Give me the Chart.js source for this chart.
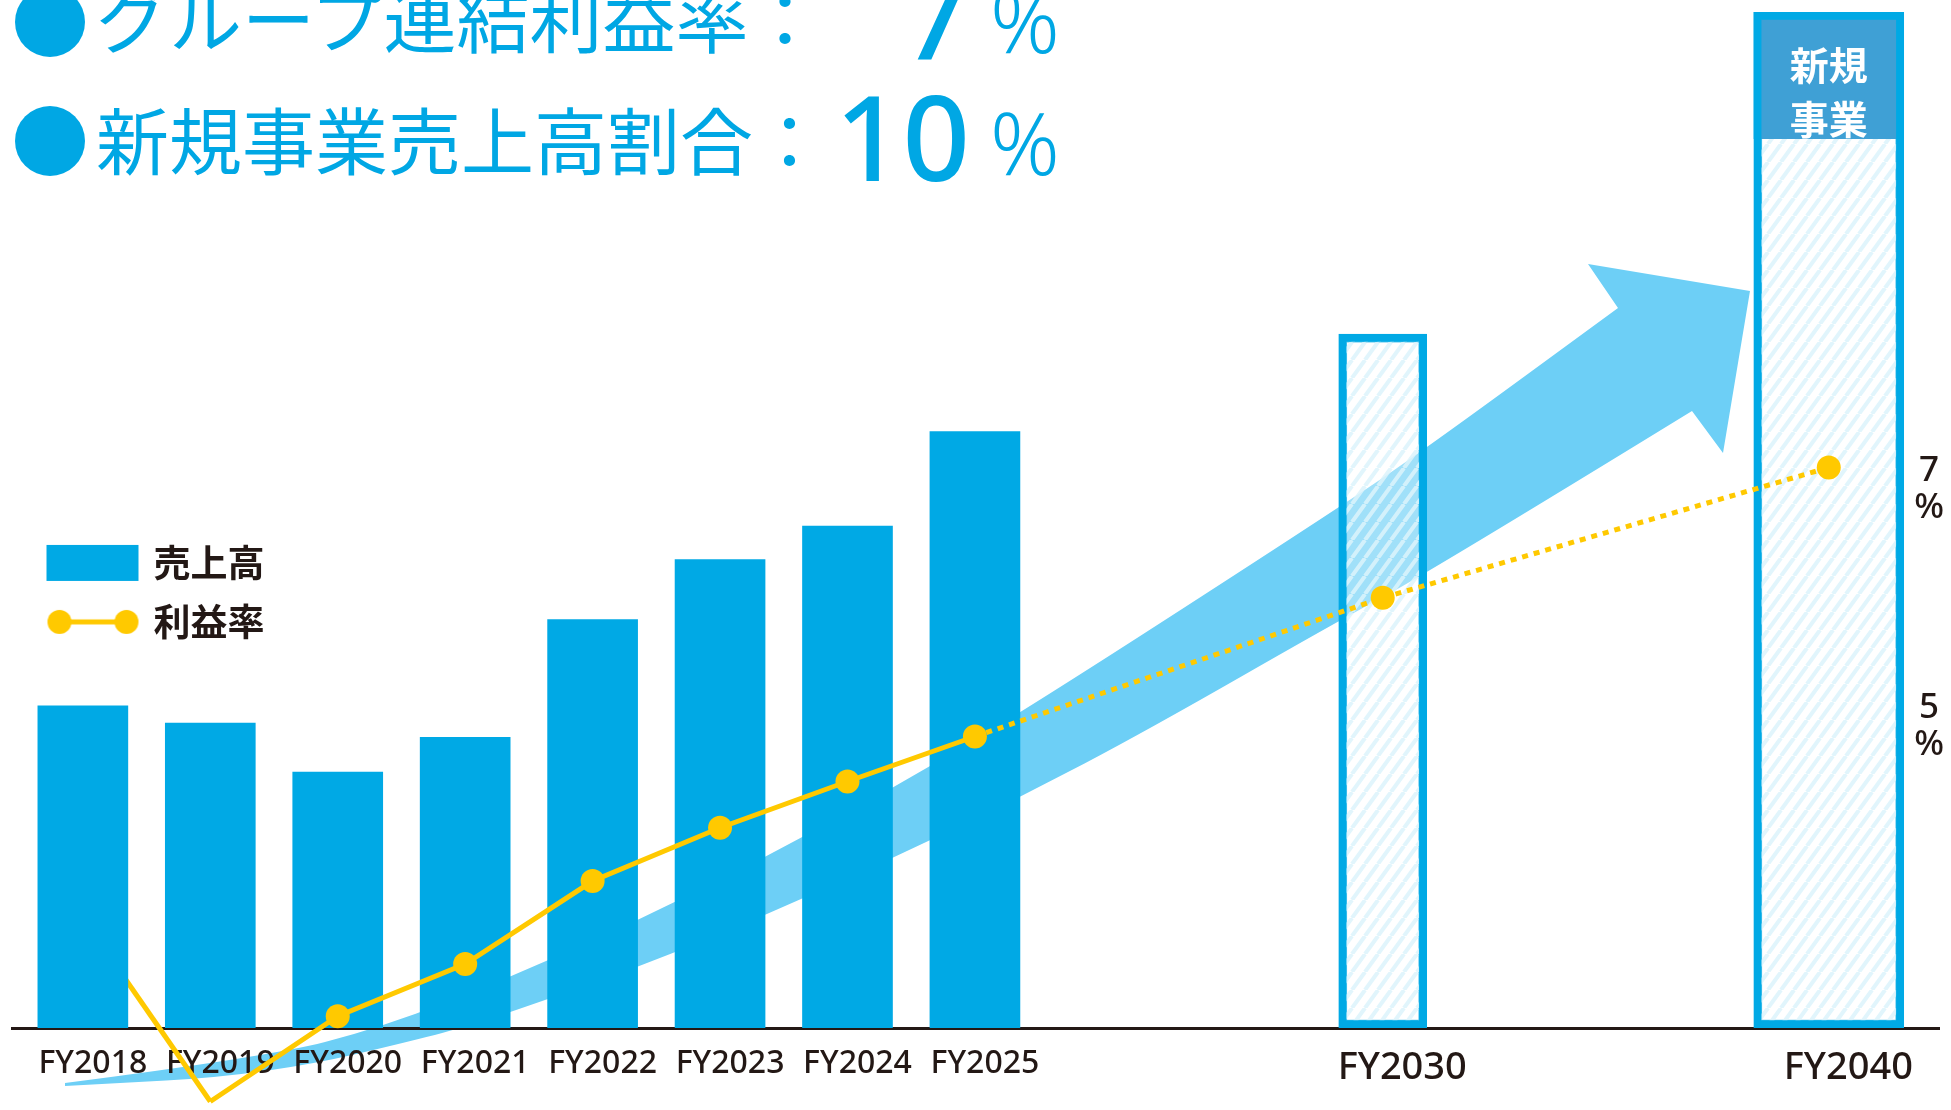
<!DOCTYPE html>
<html lang="ja">
<head>
<meta charset="utf-8">
<title>売上高・利益率</title>
<script src="https://cdn.jsdelivr.net/npm/chart.js@4.4.1/dist/chart.umd.min.js"></script>
<style>
  html, body { margin: 0; padding: 0; background: #fff; }
  #wrap { position: relative; width: 1951px; height: 1110px; overflow: hidden; }
  #chart { position: absolute; left: 0; top: 0; }
  .head { position: absolute; color: #00a7e4; white-space: nowrap; line-height: 1; }
  .dot { position: absolute; left: 15px; width: 70px; height: 70px; border-radius: 50%; background: #00a7e4; }
  .label { left: 96px; font-family: 'Noto Sans CJK JP'; font-size: 73px; font-weight: 400; }
  .num { left: 780px; width: 190px; text-align: right; font-family: 'Noto Sans'; font-size: 118px; font-weight: 500; }
  .pct { left: 990px; font-family: 'Noto Sans'; font-size: 86px; font-weight: 300; }
</style>
</head>
<body>
<div id="wrap">
  <canvas id="chart" width="1951" height="1110"></canvas>
  <div class="dot" style="top:-13px"></div>
  <div class="head label" style="top:-21px">グループ連結利益率：</div>
  <div class="head num" style="top:-45px">7</div>
  <div class="head pct" style="top:-23px">%</div>
  <div class="dot" style="top:106px"></div>
  <div class="head label" style="top:101px">新規事業売上高割合：</div>
  <div class="head num" style="top:77px">10</div>
  <div class="head pct" style="top:99px">%</div>
</div>
<script>
// 読み取った値
const categories = ['FY2018', 'FY2019', 'FY2020', 'FY2021', 'FY2022', 'FY2023', 'FY2024', 'FY2025', 'FY2030', 'FY2040'];
const slotPos = [0, 1, 2, 3, 4, 5, 6, 7, 10.2, 13.7]; // x position of each year
const salesActual = [31.7, 30.0, 25.2, 28.6, 40.2, 46.1, 49.4, 58.7]; // 売上高 FY2018-FY2025 (FY2040 = 100)
const salesPlan = [68.3, 100]; // FY2030, FY2040
const newBizShare = 12.5; // 新規事業 part of FY2040
const profitRate = [3.2, 1.65, 2.37, 2.81, 3.51, 3.96, 4.35, 4.73, 5.9, 7.0]; // 利益率 %
const rateTicks = [5, 7];

const BLUE = '#00a9e5';
const YELLOW = '#ffc900';
const INK = '#231815';

const ctx = document.getElementById('chart').getContext('2d');

// hatch for the plan bars
function makeHatch() {
    const w = 13, h = 18;
    const c = document.createElement('canvas');
    c.width = w; c.height = h;
    const g = c.getContext('2d');
    g.fillStyle = 'rgba(255,255,255,0.35)';
    g.fillRect(0, 0, w, h);
    g.strokeStyle = 'rgba(220,243,251,0.85)';
    g.lineWidth = 4;
    g.beginPath();
    for (const dx of [-w, 0, w]) {
        g.moveTo(dx, h);
        g.lineTo(dx + w, 0);
    }
    g.stroke();
    return ctx.createPattern(c, 'repeat');
}

// legend symbols
function makeSwatch(draw) {
    const c = document.createElement('canvas');
    c.width = 110; c.height = 40;
    draw(c.getContext('2d'));
    return c;
}
const barSwatch = makeSwatch(g => {
    g.fillStyle = BLUE;
    g.fillRect(17, 2, 92, 36);
});
const lineSwatch = makeSwatch(g => {
    g.strokeStyle = YELLOW;
    g.lineWidth = 5;
    g.beginPath();
    g.moveTo(30, 20);
    g.lineTo(97, 20);
    g.stroke();
    g.fillStyle = YELLOW;
    for (const x of [30, 97]) {
        g.beginPath();
        g.arc(x, 20, 12, 0, Math.PI * 2);
        g.fill();
    }
});

// big growth arrow behind everything (decoration)
const arrowPlugin = {
    id: 'growthArrow',
    beforeDraw(chart) {
        const g = chart.ctx;
        const upper = [[65, 1083], [267, 1057], [383, 1027], [511, 977], [639, 920], [766, 857], [893, 788], [1021, 713], [1340, 507], [1428, 447], [1618, 308]];
        const lower = [[65, 1086], [267, 1075], [450, 1032], [511, 1012], [639, 967], [766, 915], [893, 858], [1021, 797], [1148, 730], [1340, 620], [1428, 573], [1692, 411]];
        const smooth = pts => {
            for (let i = 1; i < pts.length - 1; i++) {
                g.quadraticCurveTo(pts[i][0], pts[i][1], (pts[i][0] + pts[i + 1][0]) / 2, (pts[i][1] + pts[i + 1][1]) / 2);
            }
            g.lineTo(pts[pts.length - 1][0], pts[pts.length - 1][1]);
        };
        g.save();
        g.fillStyle = '#6dcff6';
        g.beginPath();
        g.moveTo(upper[0][0], upper[0][1]);
        smooth(upper);
        g.lineTo(1588, 264);
        g.lineTo(1750, 291);
        g.lineTo(1723, 453);
        const back = lower.slice().reverse();
        g.lineTo(back[0][0], back[0][1]);
        smooth(back);
        g.closePath();
        g.fill();
        g.restore();
    }
};

// 新規事業 text inside the FY2040 header
const headerLabelPlugin = {
    id: 'newBizLabel',
    afterDatasetsDraw(chart) {
        const el = chart.getDatasetMeta(3).data[0];
        if (!el) return;
        const g = chart.ctx;
        g.save();
        g.fillStyle = '#fff';
        g.font = "bold 39px 'Noto Sans CJK JP'";
        g.textAlign = 'center';
        g.textBaseline = 'middle';
        g.fillText('新規', el.x, el.y + 53);
        g.fillText('事業', el.x, el.y + 107);
        g.restore();
    }
};

const pt = (i, v) => ({ x: slotPos[i], y: v });
const hatch = makeHatch();

new Chart(ctx, {
    type: 'bar',
    data: {
        datasets: [
            {   // 0 front profit line
                type: 'line',
                label: '利益率',
                yAxisID: 'y2',
                data: profitRate.map((v, i) => pt(i, i === 0 ? null : v)),
                borderColor: YELLOW,
                borderWidth: 5,
                borderCapStyle: 'butt',
                pointRadius: 12,
                pointBorderWidth: 0,
                pointBackgroundColor: YELLOW,
                segment: { borderDash: c => c.p0DataIndex >= 7 ? [6, 6] : undefined },
                clip: false,
                order: 0
            },
            {   // 1 sales actual
                label: '売上高',
                yAxisID: 'y',
                data: salesActual.map((v, i) => pt(i, v)),
                backgroundColor: BLUE,
                barThickness: 90,
                grouped: false,
                order: 3
            },
            {   // 2 plan FY2030
                label: '売上高 FY2030',
                yAxisID: 'y',
                data: [pt(8, salesPlan[0])],
                backgroundColor: hatch,
                borderColor: BLUE,
                borderWidth: 8,
                borderSkipped: false,
                barThickness: 88,
                grouped: false,
                order: 2
            },
            {   // 3 new business header FY2040
                label: '新規事業',
                yAxisID: 'y',
                data: [pt(9, [salesPlan[1] - newBizShare, salesPlan[1]])],
                backgroundColor: '#3fa0d5',
                borderColor: BLUE,
                borderWidth: { left: 8, right: 8, top: 8, bottom: 0 },
                borderSkipped: false,
                barThickness: 150,
                grouped: false,
                order: 1
            },
            {   // 4 plan FY2040
                label: '売上高 FY2040',
                yAxisID: 'y',
                data: [pt(9, salesPlan[1])],
                backgroundColor: hatch,
                borderColor: BLUE,
                borderWidth: 8,
                borderSkipped: false,
                barThickness: 150,
                grouped: false,
                order: 2
            },
            {   // 5 FY2018-FY2019 piece that sits behind the bars
                type: 'line',
                label: '利益率 (FY2018)',
                yAxisID: 'y2',
                data: profitRate.map((v, i) => pt(i, i <= 1 ? v : null)),
                borderColor: YELLOW,
                borderWidth: 5,
                pointRadius: 0,
                clip: false,
                order: 4
            }
        ]
    },
    options: {
        responsive: false,
        animation: false,
        events: [],
        layout: { padding: { left: 12, right: 4, top: 12, bottom: 0 } },
        scales: {
            x: {
                type: 'linear',
                min: -0.556,
                max: 14.565,
                offset: false,
                grid: { display: false, drawTicks: false },
                border: { display: true, color: INK, width: 3 },
                afterFit: s => { s.height = 82; s.paddingLeft = 0; s.paddingRight = 0; },
                afterBuildTicks: s => { s.ticks = slotPos.map(v => ({ value: v })); },
                ticks: {
                    autoSkip: false,
                    maxRotation: 0,
                    padding: 17,
                    labelOffset: 10,
                    color: INK,
                    font: c => c.index >= 8
                        ? { family: 'Noto Sans', size: 38, weight: '500' }
                        : { family: 'Noto Sans', size: 32, weight: '500' },
                    // the plan years sit a little right of their bars
                    callback: v => {
                        const i = slotPos.indexOf(v);
                        return i >= 8 ? '\u2002' + categories[i] : (categories[i] || '');
                    }
                }
            },
            y: {
                display: false,
                min: 0,
                max: 100
            },
            y2: {
                position: 'right',
                min: 2.27,
                max: 10.844,
                grid: { display: false, drawTicks: false },
                border: { display: false },
                afterFit: s => { s.width = 0; s.paddingTop = 0; s.paddingBottom = 0; },
                afterBuildTicks: s => { s.ticks = rateTicks.map(v => ({ value: v })); },
                ticks: {
                    mirror: true,
                    crossAlign: 'center',
                    padding: 5,
                    labelOffset: 22,
                    color: INK,
                    font: { family: 'Noto Sans', size: 35, weight: '500', lineHeight: 1.05 },
                    callback: v => [String(v), '%']
                }
            }
        },
        plugins: {
            tooltip: { enabled: false },
            legend: {
                position: 'chartArea',
                align: 'start',
                title: { display: true, text: ' ', padding: { top: 508, bottom: 0 }, font: { size: 12 } },
                labels: {
                    usePointStyle: true,
                    pointStyleWidth: 101,
                    padding: 22,
                    color: INK,
                    font: { family: 'Noto Sans CJK JP', size: 37, weight: 'bold' },
                    generateLabels: () => [
                        { text: '売上高', pointStyle: barSwatch, fillStyle: BLUE, strokeStyle: BLUE, lineWidth: 0, hidden: false, datasetIndex: 1, fontColor: INK },
                        { text: '利益率', pointStyle: lineSwatch, fillStyle: YELLOW, strokeStyle: YELLOW, lineWidth: 0, hidden: false, datasetIndex: 0, fontColor: INK }
                    ]
                }
            }
        }
    },
    plugins: [arrowPlugin, headerLabelPlugin]
});
</script>
</body>
</html>
